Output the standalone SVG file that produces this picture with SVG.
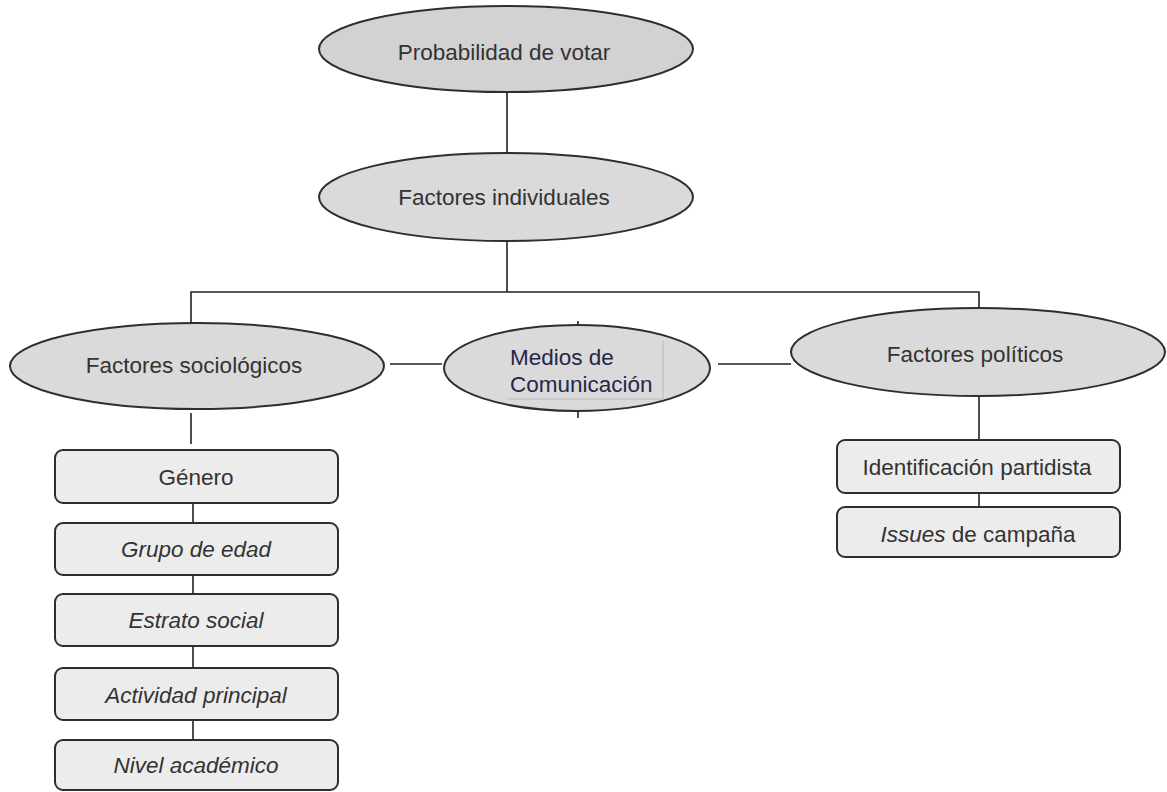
<svg xmlns="http://www.w3.org/2000/svg" width="1167" height="792" viewBox="0 0 1167 792">
<style>
.ell{fill:#dadada;stroke:#2e2e2e;stroke-width:2}
.box{fill:#ececec;stroke:#2e2e2e;stroke-width:2}
.t{font-family:"Liberation Sans",Arial,sans-serif;font-size:22.5px;fill:#333;text-anchor:middle}
.i{font-style:italic}
.ln{stroke:#222;stroke-width:1.6;fill:none}
.m{font-family:"Liberation Sans",Arial,sans-serif;font-size:22.5px;fill:#26264a}
</style>
<rect width="1167" height="792" fill="#fff"/>
<g id="connectors">
<line class="ln" x1="507" y1="93" x2="507" y2="153"/>
<line class="ln" x1="507" y1="241" x2="507" y2="292"/>
<polyline class="ln" points="191,323 191,292 979,292 979,308"/>
<line class="ln" x1="390" y1="364" x2="442" y2="364"/>
<line class="ln" x1="718" y1="364" x2="791" y2="364"/>
<line class="ln" x1="578" y1="321" x2="578" y2="328"/>
<line class="ln" x1="578" y1="410" x2="578" y2="418"/>
<line class="ln" x1="191" y1="413" x2="191" y2="444"/>
<line class="ln" x1="193" y1="503" x2="193" y2="523"/>
<line class="ln" x1="193" y1="575" x2="193" y2="594"/>
<line class="ln" x1="193" y1="646" x2="193" y2="668"/>
<line class="ln" x1="193" y1="720" x2="193" y2="740"/>
<line class="ln" x1="979" y1="397" x2="979" y2="440"/>
<line class="ln" x1="979" y1="493" x2="979" y2="507"/>
</g>
<g id="n-probabilidad">
<ellipse class="ell" style="fill:#d2d2d2" cx="506" cy="49" rx="187" ry="43"/>
<text class="t" x="504" y="60">Probabilidad de votar</text>
</g>
<g id="n-individuales">
<ellipse class="ell" cx="506" cy="197" rx="187" ry="44"/>
<text class="t" x="504" y="205">Factores individuales</text>
</g>
<g id="n-sociologicos">
<ellipse class="ell" cx="197" cy="366" rx="187" ry="43"/>
<text class="t" x="194" y="373">Factores sociológicos</text>
</g>
<g id="n-medios">
<ellipse class="ell" cx="577" cy="368" rx="133" ry="43"/>
<polyline points="508,399 663,399 663,341" fill="none" stroke="#c4c4c4" stroke-width="1.5"/>
<text class="m" x="510" y="365">Medios de</text>
<text class="m" x="510" y="392">Comunicación</text>
</g>
<g id="n-politicos">
<ellipse class="ell" cx="978" cy="352" rx="187" ry="44"/>
<text class="t" x="975" y="362">Factores políticos</text>
</g>
<g id="n-identificacion">
<rect class="box" x="837" y="440" width="283" height="53" rx="8"/>
<text class="t" x="977" y="475">Identificación partidista</text>
</g>
<g id="n-issues">
<rect class="box" x="837" y="507" width="283" height="50" rx="8"/>
<text class="t" x="978" y="542"><tspan class="i">Issues</tspan> de campaña</text>
</g>
<g id="n-genero">
<rect class="box" x="55" y="450" width="283" height="53" rx="8"/>
<text class="t" x="196" y="485">Género</text>
</g>
<g id="n-edad">
<rect class="box" x="55" y="523" width="283" height="52" rx="8"/>
<text class="t i" x="196" y="557">Grupo de edad</text>
</g>
<g id="n-estrato">
<rect class="box" x="55" y="594" width="283" height="52" rx="8"/>
<text class="t i" x="196" y="628">Estrato social</text>
</g>
<g id="n-actividad">
<rect class="box" x="55" y="668" width="283" height="52" rx="8"/>
<text class="t i" x="196" y="703">Actividad principal</text>
</g>
<g id="n-nivel">
<rect class="box" x="55" y="740" width="283" height="50" rx="8"/>
<text class="t i" x="196" y="773">Nivel académico</text>
</g>
</svg>
